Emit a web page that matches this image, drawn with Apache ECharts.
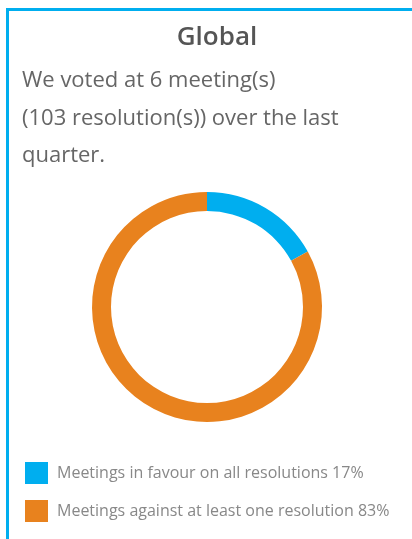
<!DOCTYPE html>
<html>
<head>
<meta charset="utf-8">
<script src="https://cdn.jsdelivr.net/npm/echarts@6/dist/echarts.min.js"></script>
<style>
  html, body { margin: 0; padding: 0; background: #fff; }
  #chart { width: 412px; height: 539px; }
</style>
</head>
<body>
<div id="chart"></div>
<script>
// 图表数据
var titleText = 'Global'
var introLines = ['We voted at 6 meeting(s)', '(103 resolution(s)) over the last', 'quarter.']
var categories = ['Meetings in favour on all resolutions', 'Meetings against at least one resolution']
var values = [17, 83]
var colors = ['#00aeef', '#e8821e']

var chart = echarts.init(document.getElementById('chart'))

var option = {
  animation: false,
  color: colors,
  title: [
    {
      text: titleText,
      left: 212,
      textAlign: 'center',
      top: 20,
      textStyle: {
        fontFamily: 'Open Sans',
        fontSize: 26,
        fontWeight: 600,
        color: '#555'
      }
    },
    {
      text: introLines.join('\n'),
      left: 17,
      top: 57,
      textStyle: {
        fontFamily: 'Open Sans',
        fontSize: 22,
        fontWeight: 'normal',
        lineHeight: 37.5,
        color: '#666'
      }
    }
  ],
  // 边框（上、左）
  graphic: [
    { type: 'rect', shape: { x: 6, y: 8, width: 406, height: 3 }, style: { fill: '#00aeef' } },
    { type: 'rect', shape: { x: 6, y: 8, width: 3, height: 531 }, style: { fill: '#00aeef' } }
  ],
  legend: {
    orient: 'vertical',
    left: 25,
    top: 462,
    padding: 0,
    itemWidth: 23,
    itemHeight: 22,
    itemGap: 16,
    icon: 'rect',
    data: categories,
    formatter: function (name) {
      var i = categories.indexOf(name)
      return name + ' ' + values[i] + '%'
    },
    textStyle: {
      fontFamily: 'Open Sans',
      fontSize: 16,
      color: '#888',
      padding: [0, 0, 0, 4]
    },
    selectedMode: false
  },
  series: [
    {
      type: 'pie',
      center: [207, 307],
      radius: [96, 115],
      startAngle: 90,
      clockwise: true,
      label: { show: false },
      labelLine: { show: false },
      emphasis: { disabled: true },
      data: categories.map(function (c, i) {
        return { name: c, value: values[i] }
      })
    }
  ]
}

chart.setOption(option)
</script>
</body>
</html>
